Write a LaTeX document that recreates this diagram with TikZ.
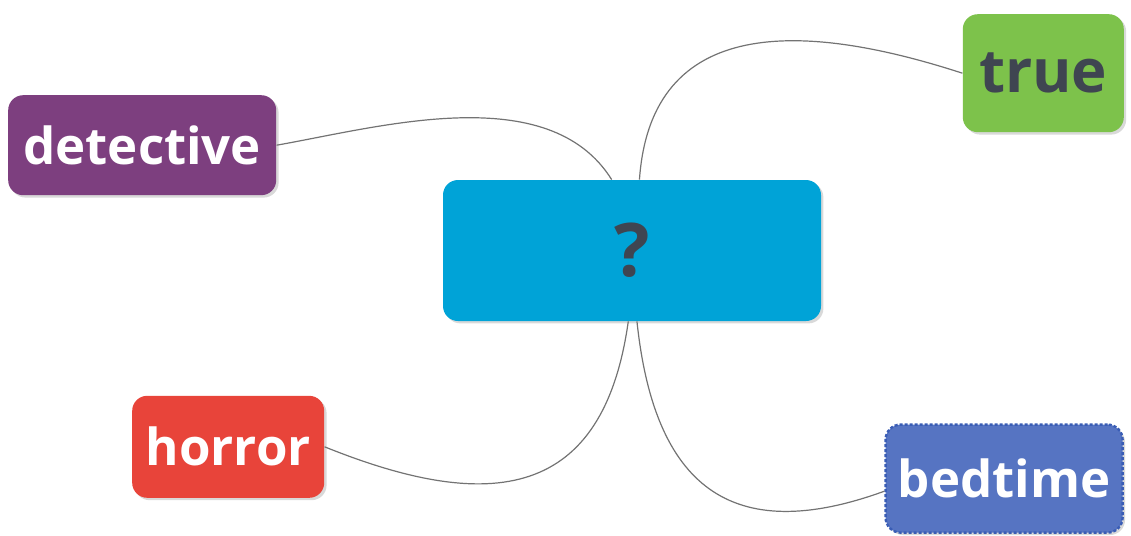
\documentclass[tikz,border=0pt]{standalone}
\usepackage{fontspec}
\setsansfont{Open Sans}
\usetikzlibrary{positioning,shadows}
\definecolor{topicblue}{HTML}{00A3D7}
\definecolor{detpurple}{HTML}{7D3F7F}
\definecolor{truegreen}{HTML}{7DC24B}
\definecolor{horrred}{HTML}{E8443A}
\definecolor{bedblue}{HTML}{5674C2}
\definecolor{bedline}{HTML}{3A5DB5}
\definecolor{darktext}{HTML}{3F4551}
\newcommand{\word}[1]{\textsf{\bfseries #1}}

\begin{document}
\begin{tikzpicture}[
          node distance=1cm and .5cm,
          box/.style={rounded corners=7.5pt,align=center,inner sep=2pt,
            drop shadow={shadow xshift=1.2pt,shadow yshift=-1.2pt,opacity=.3}},
          leaf/.style={box,text=white,font=\fontsize{25.5}{28}\selectfont},
          link/.style={draw=black!55,line width=.6pt}
            ]
            \useasboundingbox (0,0) rectangle (565.5pt,-268pt);
            \node[box,fill=topicblue,text=darktext,minimum width=189pt,minimum height=70.5pt,
              font=\fontsize{37}{40}\selectfont] (q) at (316pt,-125.25pt) {\word{?}};
            \node[leaf,fill=detpurple,minimum width=134pt,minimum height=50pt,
              above left=-8pt and 83pt of q] (det) {\word{detective}};
            \node[box,fill=truegreen,text=darktext,minimum width=80.5pt,minimum height=59pt,
              font=\fontsize{30}{34}\selectfont,above right=23.5pt and 70.5pt of q] (tru) {\word{true}};
            \node[leaf,fill=horrred,minimum width=96pt,minimum height=51pt,
              below left=37pt and 59pt of q] (hor) {\word{horror}};
            \node[leaf,fill=bedblue,draw=bedline,line width=1.2pt,dash pattern=on 1.5pt off 1pt,
              minimum width=118.5pt,minimum height=54pt,
              below right=51pt and 31.5pt of q] (bed) {\word{bedtime}};
            \path (det.east) edge[link,out=10,in=122,out looseness=.8,in looseness=.9] (q.106)
            (tru.west) edge[link,out=162,in=86,looseness=1.25] (q.84)
            (hor.east) edge[link,out=-22,in=-98,looseness=1.4] (q.267)
            (bed.186) edge[link,out=200,in=-84,looseness=1.4] (q.274);
            \end{tikzpicture}
\end{document}
